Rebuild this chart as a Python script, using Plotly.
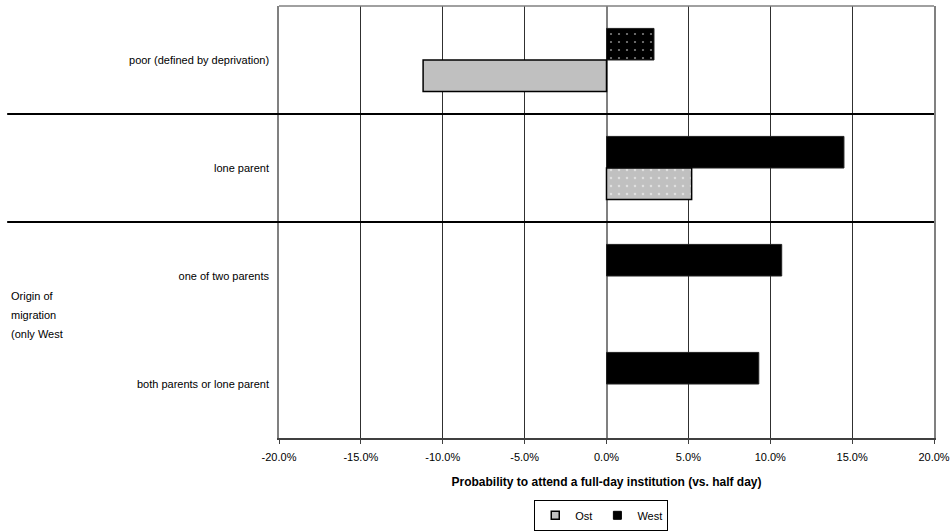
import plotly.graph_objects as go

# ---- data ----
categories = ["poor (defined by deprivation)", "lone parent",
              "one of two parents", "both parents or lone parent"]
west_values = [0.029, 0.145, 0.107, 0.093]
ost_values = [-0.112, 0.052, None, None]
west_patterns = [".", "", "", ""]
ost_patterns = ["", ".", "", ""]
tick_values = [-0.20, -0.15, -0.10, -0.05, 0.0, 0.05, 0.10, 0.15, 0.20]
tick_labels = ["-20.0%", "-15.0%", "-10.0%", "-5.0%", "0.0%",
               "5.0%", "10.0%", "15.0%", "20.0%"]
group_label_lines = ["Origin of", "migration", "(only West"]
x_title = "Probability to attend a full-day institution (vs. half day)"

FONT = "Liberation Sans, Arial, sans-serif"
OST_COLOR = "#C0C0C0"
WEST_COLOR = "#000000"

fig = go.Figure()

fig.add_trace(go.Bar(
    y=categories, x=west_values, orientation="h", name="West",
    showlegend=False, hoverinfo="x+y",
    marker=dict(color=WEST_COLOR, line=dict(color="#202020", width=1),
                pattern=dict(shape=west_patterns, fillmode="overlay",
                             fgcolor="white", size=8, solidity=0.06)),
))
fig.add_trace(go.Bar(
    y=categories, x=ost_values, orientation="h", name="Ost",
    showlegend=False, hoverinfo="x+y",
    marker=dict(color=OST_COLOR, line=dict(color="#000000", width=1.5),
                pattern=dict(shape=ost_patterns, fillmode="overlay",
                             fgcolor="white", size=8, solidity=0.08)),
))

# legend entries
fig.add_trace(go.Scatter(x=[None], y=[None], mode="markers", name="Ost",
                         marker=dict(symbol="square", size=8, color=OST_COLOR,
                                     line=dict(color="#000000", width=1.5))))
fig.add_trace(go.Scatter(x=[None], y=[None], mode="markers", name="West",
                         marker=dict(symbol="square", size=8, color=WEST_COLOR,
                                     line=dict(color="#000000", width=1))))

shapes = [
    dict(type="line", xref="paper", yref="paper", x0=0, x1=1, y0=1, y1=1,
         line=dict(color="#808080", width=1.5)),
]
for b in [0.5, 1.5]:
    shapes.append(dict(type="line", xref="paper", yref="y", x0=-0.415, x1=1,
                       y0=b, y1=b, line=dict(color="#000000", width=2),
                       layer="above"))

annotations = []
for i, line in enumerate(group_label_lines):
    annotations.append(dict(
        text=line, xref="paper", yref="paper", x=-0.412, xanchor="left",
        y=0.329 - i * 0.044, yanchor="middle", showarrow=False,
        font=dict(family=FONT, size=11, color="black")))

fig.update_layout(
    width=952, height=531,
    margin=dict(l=279, r=18, t=6, b=93, autoexpand=False),
    paper_bgcolor="white", plot_bgcolor="white",
    barmode="group", bargap=0.415, bargroupgap=0,
    font=dict(family=FONT, size=11, color="black"),
    shapes=shapes, annotations=annotations,
    legend=dict(orientation="h", x=0.492, xanchor="center",
                y=-0.179, yanchor="middle",
                bordercolor="#000000", borderwidth=1,
                font=dict(family=FONT, size=11, color="black"),
                itemwidth=30, bgcolor="white"),
    xaxis=dict(range=[-0.2, 0.2], tickmode="array", tickvals=tick_values,
               ticktext=tick_labels,
               showgrid=True, gridcolor="#303030", gridwidth=1,
               zeroline=True, zerolinecolor="#808080", zerolinewidth=2,
               showline=True, linecolor="#404040", linewidth=1.5,
               ticks="outside", ticklen=4, tickcolor="#404040",
               ticklabelstandoff=4,
               tickfont=dict(family=FONT, size=11, color="black"),
               title=dict(text="<b>" + x_title + "</b>", standoff=16,
                          font=dict(family=FONT, size=12, color="black"))),
    yaxis=dict(type="category", categoryorder="array", categoryarray=categories,
               autorange="reversed", showgrid=False, zeroline=False,
               showline=True, mirror=True, linecolor="#808080", linewidth=1.5,
               ticks="", ticklabelstandoff=6,
               tickfont=dict(family=FONT, size=11, color="black")),
)

fig.write_html("out.html",
               config={"displayModeBar": False},
               post_script="document.body.style.margin='0';"
                           "document.body.style.overflow='hidden';")
